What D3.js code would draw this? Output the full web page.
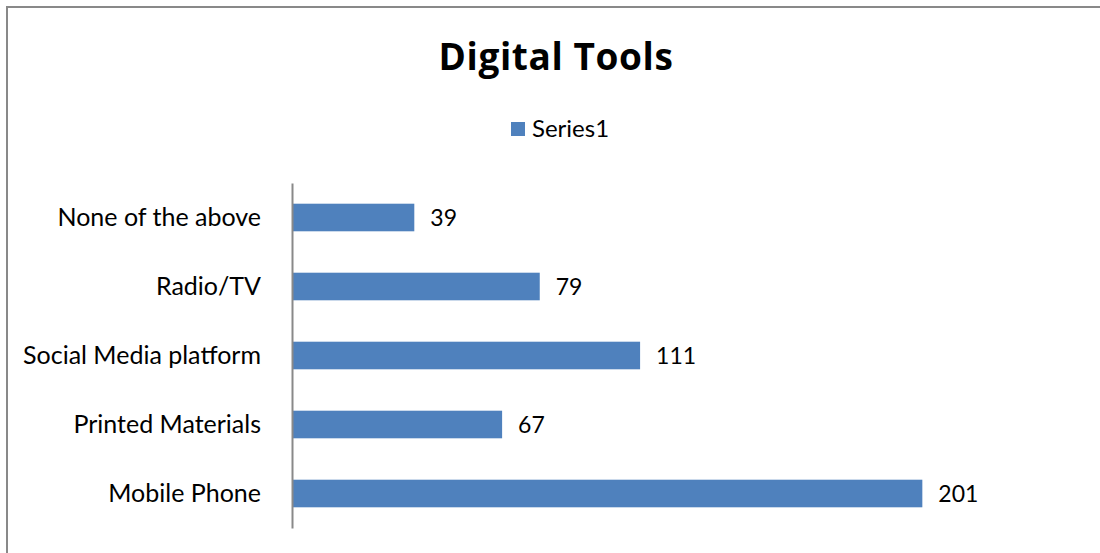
<!DOCTYPE html>
<html>
<head>
<meta charset="utf-8">
<script src="https://cdn.jsdelivr.net/npm/d3@7"></script>
<style>
  html, body { margin: 0; padding: 0; background: #fff; }
  svg { display: block; }
  text { font-family: Lato, "Open Sans", sans-serif; fill: #000; }
</style>
</head>
<body>
<svg id="chart" width="1100" height="553"></svg>
<script>
(function () {
  'use strict';

  // chart data
  var categories = ['None of the above', 'Radio/TV', 'Social Media platform', 'Printed Materials', 'Mobile Phone'];
  var values = [39, 79, 111, 67, 201];
  var seriesName = 'Series1';
  var title = 'Digital Tools';
  var xMax = 250;

  var width = 1100,
    height = 553,
    margin = {top: 183, right: 24, bottom: 25, left: 292};

  var svg = d3.select('#chart');

  // outer chart border (extends past the right/bottom edges in the source)
  svg.append('rect')
    .attr('x', 7)
    .attr('y', 7)
    .attr('width', width + 10)
    .attr('height', height + 10)
    .attr('fill', '#fff')
    .attr('stroke', '#898989')
    .attr('stroke-width', 2);

  var x = d3.scaleLinear()
    .domain([0, xMax])
    .range([margin.left, width - margin.right]);

  var y = d3.scaleBand()
    .domain(categories)
    .range([margin.top, height - margin.bottom])
    .paddingInner(0.6)
    .paddingOuter(0.3);

  // title
  svg.append('text')
    .attr('x', 556)
    .attr('y', 70)
    .attr('text-anchor', 'middle')
    .style('font-family', '"Open Sans", Lato, sans-serif')
    .style('font-weight', 'bold')
    .style('font-size', '37px')
    .style('letter-spacing', '0.6px')
    .text(title);

  // legend
  var legend = svg.append('g').attr('transform', 'translate(511,122)');
  legend.append('rect')
    .attr('width', 14)
    .attr('height', 14)
    .attr('fill', '#4F81BD');
  legend.append('text')
    .attr('x', 21)
    .attr('y', 15)
    .style('font-size', '24px')
    .text(seriesName);

  // bars
  svg.append('g')
    .selectAll('rect')
    .data(values)
    .join('rect')
    .attr('x', x(0))
    .attr('y', function (d, i) { return y(categories[i]); })
    .attr('width', function (d) { return x(d) - x(0); })
    .attr('height', y.bandwidth())
    .attr('fill', '#4F81BD');

  // value labels
  svg.append('g')
    .selectAll('text')
    .data(values)
    .join('text')
    .attr('x', function (d) { return x(d) + 16; })
    .attr('y', function (d, i) { return y(categories[i]) + y.bandwidth() / 2; })
    .attr('dy', '0.35em')
    .style('font-size', '23px')
    .text(function (d) { return d; });

  // category axis
  var axis = d3.axisLeft(y).tickSize(0).tickPadding(31);
  var gAxis = svg.append('g')
    .attr('transform', 'translate(' + x(0) + ',0)')
    .call(axis);

  gAxis.select('.domain')
    .attr('stroke', '#898989')
    .attr('stroke-width', 2);

  gAxis.selectAll('.tick text')
    .style('font-family', 'Lato, "Open Sans", sans-serif')
    .style('font-size', '25px')
    .attr('fill', '#000');
}());
</script>
</body>
</html>
